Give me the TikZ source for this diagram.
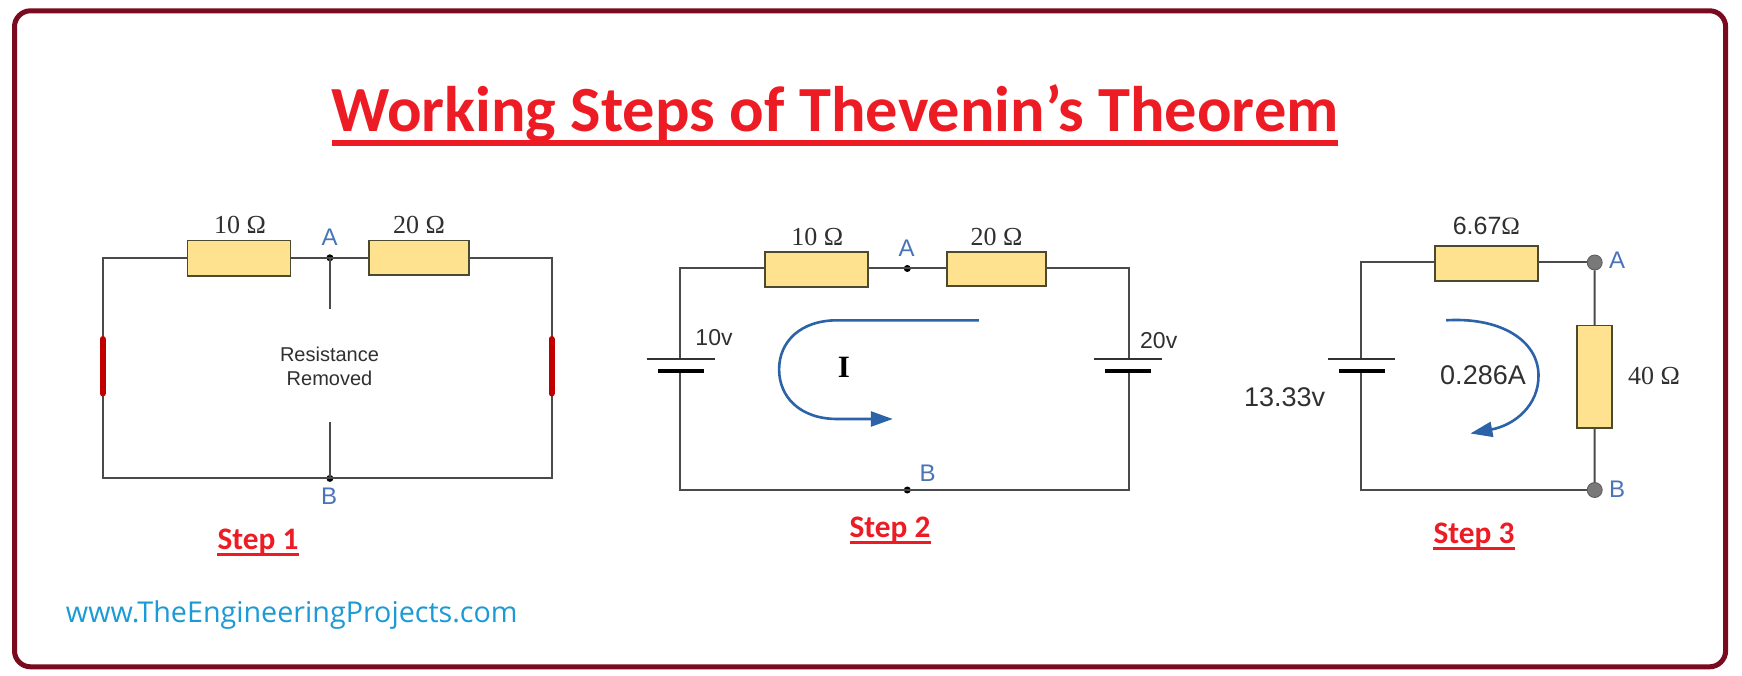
\documentclass[tikz,border=0pt]{standalone}
\usepackage{fontspec}
\setmainfont{Liberation Sans}
\newfontfamily\calfont{Carlito}
\newfontfamily\serfont{Liberation Serif}
\newfontfamily\urlfont{Open Sans}
\usetikzlibrary{arrows.meta}
\definecolor{frame}{HTML}{7A0A1E}
\definecolor{titlered}{HTML}{ED1C24}
\definecolor{wire}{HTML}{4A4A4A}
\definecolor{resfill}{HTML}{FFE28F}
\definecolor{resline}{HTML}{4A4A30}
\definecolor{termblue}{HTML}{4A74B8}
\definecolor{arcblue}{HTML}{2B62A8}
\definecolor{barred}{HTML}{C00000}
\definecolor{urlblue}{HTML}{1B9AD6}
\definecolor{txt}{HTML}{303030}
\tikzset{
  x=1pt,y=-1pt,
  wirestyle/.style={draw=wire,line width=2pt},
  resbox/.style={draw=resline,line width=1.8pt,fill=resfill,inner sep=0pt,outer sep=0pt},
  dotnode/.style={circle,fill=black,inner sep=0pt,minimum size=7pt},
  termnode/.style={circle,fill=gray!95!black,draw=black!65,line width=.8pt,inner sep=0pt,minimum size=15pt},
  lab/.style={anchor=base,inner sep=0pt,text=txt},
  serlab/.style={lab,font=\serfont\fontsize{26}{30}\selectfont},
  termlab/.style={anchor=base,inner sep=0pt,text=termblue,font=\fontsize{24}{28}\selectfont},
  vlab/.style={lab,font=\fontsize{23}{28}\selectfont},
  widelab/.style={lab,font=\fontsize{27}{32}\selectfont},
  steplab/.style={anchor=base,inner sep=0pt,text=titlered,font=\calfont\bfseries\fontsize{31.3}{36}\selectfont},
  longplate/.style={draw=black!80,line width=2.4pt},
  shortplate/.style={draw=black,line width=4.4pt},
  redbar/.style={draw=barred,line width=6pt,line cap=round},
  arc/.style={draw=arcblue,line width=2.6pt},
  arctip/.style={-{Triangle[length=22pt,width=15pt,fill=arcblue]}},
}
\begin{document}
\begin{tikzpicture}
\useasboundingbox (0,0) rectangle (1742,676);
\fill[white] (0,0) rectangle (1742,676);
\draw[frame,line width=5pt,rounded corners=16pt] (14.5,10.8) rectangle (1725.6,666.8);

% Title
\node[anchor=base,inner sep=0pt,text=titlered,font=\calfont\bfseries\fontsize{64.4}{72}\selectfont] (title) at (835,131.5) {Working Steps of Thevenin’s Theorem};
\fill[titlered] (332,140.5) rectangle (1338,145.7);

% Circuit 1
\coordinate (a1) at (102.6,257.8);
\coordinate (a2) at (551.5,257.8);
\coordinate (a3) at (551.5,478.4);
\coordinate (a4) at (102.6,478.4);
\coordinate (abarL1) at (102.6,339);
\coordinate (abarL2) at (102.6,393.5);
\coordinate (abarR1) at (551.5,339);
\coordinate (abarR2) at (551.5,393.5);
\coordinate (astubA) at (329.9,309);
\coordinate (astubB) at (329.9,422.4);
\node[dotnode] (aA) at (329.9,257.8) {};
\node[dotnode] (aB) at (329.9,478.4) {};
\node[resbox,minimum width=103pt,minimum height=35.4pt] (aR1) at (239,258.2) {};
\node[resbox,minimum width=99.9pt,minimum height=34.5pt] (aR2) at (419.2,257.8) {};
\draw[wirestyle] (aR1.west |- a1) -- (a1) -- (a4) -- (aB.center) -- (a3) -- (a2) -- (aR2.east |- a2);
\draw[wirestyle] (aR1.east |- a1) -- (aA.center) -- (aR2.west |- a2);
\draw[wirestyle] (aA.center) -- (astubA);
\draw[wirestyle] (aB.center) -- (astubB);
\draw[redbar] (abarL1) -- (abarL2);
\draw[redbar] (abarR1) -- (abarR2);
\node[serlab] (al1) at (240,234) {10 Ω};
\node[serlab] (al2) at (419,234) {20 Ω};
\node[termlab] (alA) at (329.5,245.7) {A};
\node[termlab] (alB) at (329,504.3) {B};
\node[inner sep=0pt,text=txt,align=center,font=\fontsize{20}{23.6}\selectfont] (arem) at (329.5,366.5) {Resistance\\Removed};
\node[steplab] (as) at (258,549.6) {Step 1};
\fill[titlered] (217.4,553) rectangle (298.5,556);

% Circuit 2
\coordinate (b1) at (680.4,268.5);
\coordinate (b2) at (1128.5,268.5);
\coordinate (b3) at (1128.5,490);
\coordinate (b4) at (680.4,490);
\coordinate (bLl1) at (646.7,359);
\coordinate (bLl2) at (714.8,359);
\coordinate (bLs1) at (658.2,370.7);
\coordinate (bLs2) at (704,370.7);
\coordinate (bRl1) at (1094,359);
\coordinate (bRl2) at (1162.2,359);
\coordinate (bRs1) at (1104.8,370.7);
\coordinate (bRs2) at (1150.7,370.7);
\node[dotnode] (bA) at (907.3,268.5) {};
\node[dotnode] (bB) at (907.3,490) {};
\node[resbox,minimum width=102.6pt,minimum height=34.9pt] (bR1) at (816.6,269.2) {};
\node[resbox,minimum width=99.5pt,minimum height=34.5pt] (bR2) at (996.4,269) {};
\draw[wirestyle] (bR1.west |- b1) -- (b1) -- (680.4,359);
\draw[wirestyle] (680.4,370.7) -- (b4) -- (bB.center) -- (b3) -- (1128.5,370.7);
\draw[wirestyle] (1128.5,359) -- (b2) -- (bR2.east |- b2);
\draw[wirestyle] (bR1.east |- b1) -- (bA.center) -- (bR2.west |- b2);
\draw[longplate] (bLl1) -- (bLl2);
\draw[shortplate] (bLs1) -- (bLs2);
\draw[longplate] (bRl1) -- (bRl2);
\draw[shortplate] (bRs1) -- (bRs2);
\node[serlab] (bl1) at (817.4,245.3) {10 Ω};
\node[serlab] (bl2) at (996.5,245.3) {20 Ω};
\node[termlab] (blA) at (906.5,256.5) {A};
\node[termlab] (blB) at (927.6,481.5) {B};
\node[vlab] (bv1) at (714,345.7) {10v};
\node[vlab] (bv2) at (1158.7,348.3) {20v};
\coordinate (barc0) at (978.9,320.3);
\coordinate (barc1) at (837.3,320.3);
\coordinate (barc2) at (779.1,369.4);
\coordinate (barc3) at (837.3,419);
\coordinate (barc4) at (892.8,419);
\draw[arc,arctip] (barc0) -- (barc1) .. controls (800,320.3) and (779.1,342) .. (barc2) .. controls (779.1,397) and (800,419) .. (barc3) -- (barc4);
\node[anchor=base,inner sep=0pt,text=black,font=\serfont\bfseries\fontsize{31}{36}\selectfont] (bI) at (844,377) {I};
\node[steplab] (bs) at (890,537.5) {Step 2};
\fill[titlered] (849.5,540.5) rectangle (930.6,543.5);

% Circuit 3
\coordinate (c1) at (1361.3,262.5);
\coordinate (c4) at (1361.3,490);
\coordinate (cl1) at (1327.6,359);
\coordinate (cl2) at (1395.3,359);
\coordinate (cs1) at (1339,370.7);
\coordinate (cs2) at (1384.6,370.7);
\node[resbox,minimum width=103.3pt,minimum height=34.9pt] (cR1) at (1486.4,263.2) {};
\node[resbox,minimum width=34.9pt,minimum height=102.6pt] (cR2) at (1594.6,376.7) {};
\node[termnode] (cA) at (1594.7,262.5) {};
\node[termnode] (cB) at (1594.7,490) {};
\draw[wirestyle] (cR1.west |- c1) -- (c1) -- (1361.3,359);
\draw[wirestyle] (1361.3,370.7) -- (c4) -- (cB);
\draw[wirestyle] (cR1.east |- c1) -- (cA);
\draw[wirestyle] (cA) -- (cR2);
\draw[wirestyle] (cR2) -- (cB);
\draw[longplate] (cl1) -- (cl2);
\draw[shortplate] (cs1) -- (cs2);
\node[lab,font=\fontsize{25}{30}\selectfont] (cl6) at (1486.4,234.5) {6.67\serfont Ω};
\node[serlab] (cl40) at (1654,384.5) {40 Ω};
\node[termlab] (clA) at (1617,269) {A};
\node[termlab] (clB) at (1617,497.4) {B};
\node[widelab] (cv) at (1284.7,406) {13.33v};
\node[widelab] (ci) at (1483,384.5) {0.286A};
\coordinate (carc0) at (1446.2,320.3);
\coordinate (carc1) at (1538.5,375);
\coordinate (carc2) at (1470.4,433.5);
\draw[arc,arctip] (carc0) .. controls (1500,317) and (1538,340) .. (carc1) .. controls (1539,405) and (1515,425) .. (carc2);
\node[steplab] (cs) at (1474,543) {Step 3};
\fill[titlered] (1433,546.5) rectangle (1515,549.5);

% URL
\node[anchor=base,inner sep=0pt,text=urlblue,font=\urlfont\fontsize{28.7}{32}\selectfont] (url) at (291.8,622) {www.TheEngineeringProjects.com};
\end{tikzpicture}
\end{document}
